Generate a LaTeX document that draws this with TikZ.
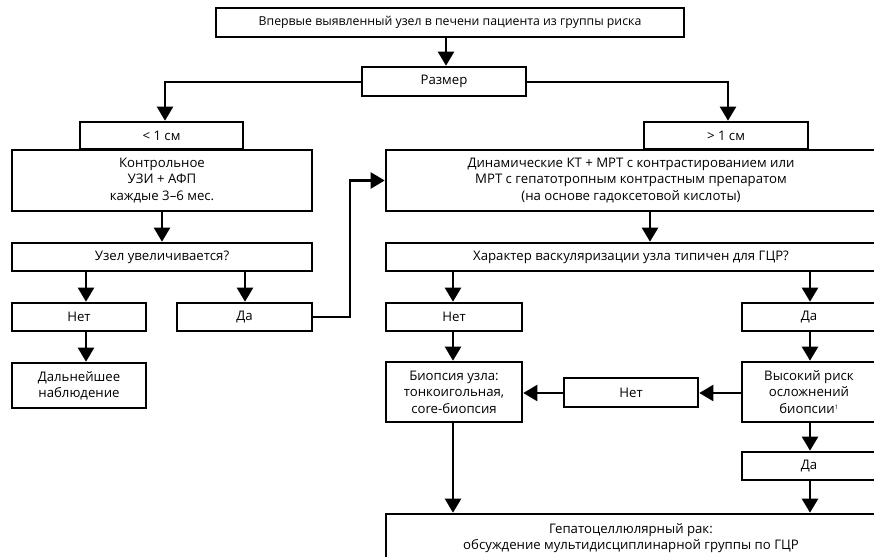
\documentclass[tikz,border=0pt]{standalone}
\usepackage{fontspec}
\setmainfont{Open Sans}
\usetikzlibrary{arrows.meta}
\begin{document}
\begin{tikzpicture}[x=1pt,y=-1pt,
  box/.style={draw, line width=2.6pt, inner sep=0pt, align=center, font=\fontsize{13.2}{16.5}\selectfont},
  conn/.style={line width=2.3pt},
  arr/.style={conn, -{Triangle[length=14pt,width=16pt]}}]
\useasboundingbox (0,0) rectangle (874,556);
\clip (0,0) rectangle (874,556);
% nodes
\node[box, minimum width=468, minimum height=29, font=\fontsize{12.3}{16}\selectfont] (top) at (450,22.5) {Впервые выявленный узел в печени пациента из группы риска};
\node[box, minimum width=164, minimum height=29] (razm) at (444,81.5) {Размер};
\node[box, minimum width=163, minimum height=27] (lt) at (161.5,135.5) {< 1 см};
\node[box, minimum width=164, minimum height=27] (gt) at (726,135.5) {> 1 см};
\node[box, minimum width=300, minimum height=61] (kontr) at (162,180.5) {Контрольное\\УЗИ + АФП\\каждые 3–6 мес.};
\node[box, minimum width=490, minimum height=61] (dyn) at (631,180.5) {Динамические КТ + МРТ с контрастированием или\\МРТ с гепатотропным контрастным препаратом\\(на основе гадоксетовой кислоты)};
\node[box, minimum width=300, minimum height=28] (uzel) at (162,257) {Узел увеличивается?};
\node[box, minimum width=490, minimum height=28] (har) at (631,257) {Характер васкуляризации узла типичен для ГЦР?};
\node[box, minimum width=134, minimum height=28] (net1) at (79,317) {Нет};
\node[box, minimum width=135, minimum height=28] (da1) at (244.5,317) {Да};
\node[box, minimum width=136, minimum height=28] (net2) at (454,317) {Нет};
\node[box, minimum width=134, minimum height=28] (da2) at (809,317) {Да};
\node[box, minimum width=134, minimum height=45] (dal) at (79,385.5) {Дальнейшее\\наблюдение};
\node[box, minimum width=136, minimum height=60] (biop) at (454,392) {Биопсия узла:\\тонкоигольная,\\core-биопсия};
\node[box, minimum width=134, minimum height=29] (net3) at (631,392.5) {Нет};
\node[box, minimum width=134, minimum height=60] (vys) at (809,392) {Высокий риск\\осложнений\\биопсии\textsuperscript{\fontsize{6}{6}\selectfont 1}};
\node[box, minimum width=134, minimum height=28] (da3) at (809,466) {Да};
\node[box, minimum width=490, minimum height=48] (hcc) at (631,538) {Гепатоцеллюлярный рак:\\обсуждение мультидисциплинарной группы по ГЦР};
% column coordinates
\coordinate (xtop) at (446,0);
\coordinate (xlt) at (165,82);
\coordinate (xgt) at (728,82);
\coordinate (xk) at (162,0);
\coordinate (xd) at (650,0);
\coordinate (xa) at (86,0);
\coordinate (xb) at (245,0);
\coordinate (xc) at (453,0);
\coordinate (xe) at (810,0);
\coordinate (jog) at (350,0);
\coordinate (ydyn) at (0,180.5);
\coordinate (yda1) at (0,317);
\coordinate (ybi) at (0,393);
% connectors
\draw[arr] (top.south -| xtop) -- (razm.north -| xtop);
\draw[arr] (razm.west |- xlt) -- (xlt) -- (lt.north -| xlt);
\draw[arr] (razm.east |- xgt) -- (xgt) -- (gt.north -| xgt);
\draw[arr] (kontr.south -| xk) -- (uzel.north -| xk);
\draw[arr] (dyn.south -| xd) -- (har.north -| xd);
\draw[arr] (uzel.south -| xa) -- (net1.north -| xa);
\draw[arr] (uzel.south -| xb) -- (da1.north -| xb);
\draw[arr] (net1.south -| xa) -- (dal.north -| xa);
\draw[arr] (da1.east |- yda1) -- (jog |- yda1) -- (jog |- ydyn) -- (dyn.west |- ydyn);
\draw[arr] (har.south -| xc) -- (net2.north -| xc);
\draw[arr] (har.south -| xe) -- (da2.north -| xe);
\draw[arr] (net2.south -| xc) -- (biop.north -| xc);
\draw[arr] (da2.south -| xe) -- (vys.north -| xe);
\draw[arr] (vys.west |- ybi) -- (net3.east |- ybi);
\draw[arr] (net3.west |- ybi) -- (biop.east |- ybi);
\draw[arr] (vys.south -| xe) -- (da3.north -| xe);
\draw[arr] (da3.south -| xe) -- (hcc.north -| xe);
\draw[arr] (biop.south -| xc) -- (hcc.north -| xc);
\end{tikzpicture}
\end{document}
